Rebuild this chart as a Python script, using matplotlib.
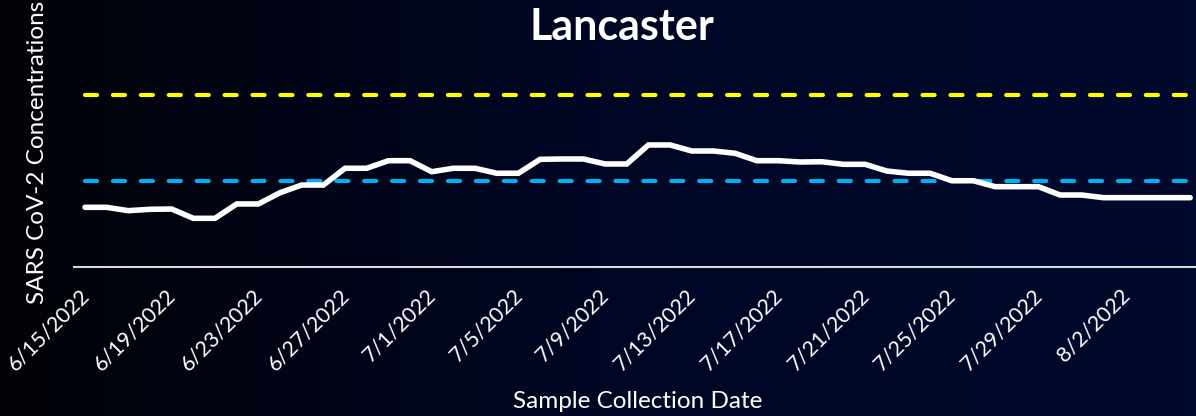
import numpy as np
import pandas as pd
import matplotlib
matplotlib.use("Agg")
import matplotlib.pyplot as plt
import matplotlib.transforms as mtransforms
from matplotlib.colors import LinearSegmentedColormap

# Lancaster wastewater data (arbitrary units, lower threshold = 1)
start_date = "2022-06-15"
concentration = [
    0.694, 0.694, 0.655, 0.671, 0.674, 0.566, 0.566, 0.733, 0.733, 0.864,
    0.953, 0.953, 1.148, 1.148, 1.236, 1.236, 1.108, 1.148, 1.148, 1.090,
    1.090, 1.252, 1.256, 1.256, 1.198, 1.198, 1.419, 1.419, 1.349, 1.349,
    1.322, 1.236, 1.236, 1.221, 1.224, 1.194, 1.194, 1.116, 1.090, 1.090,
    1.003, 1.003, 0.934, 0.934, 0.934, 0.837, 0.837, 0.806, 0.806, 0.806,
    0.806, 0.806,
]
low_threshold = 1.0
high_threshold = 2.0
tick_step = 4

dates = pd.date_range(start_date, periods=len(concentration), freq="D")
day = np.arange(len(concentration))
tick_labels = [f"{d.month}/{d.day}/{d.year}" for d in dates[::tick_step]]

plt.rcParams["font.family"] = ["Lato", "DejaVu Sans"]

W, H = 1196, 416
fig = plt.figure(figsize=(W / 100, H / 100), dpi=100)

# background gradient: black on the left, dark navy on the right
bg = fig.add_axes([0, 0, 1, 1])
cmap = LinearSegmentedColormap.from_list("bg", ["#020308", "#000624", "#000a2c"])
bg.imshow(np.linspace(0, 1, 256)[None, :], aspect="auto", cmap=cmap,
          extent=[0, 1, 0, 1])
bg.set_axis_off()

# axes placed in pixels
left, right, bottom, top = 74, W, 267, 30
ax = fig.add_axes([left / W, (H - bottom) / H, (right - left) / W, (bottom - top) / H])
ax.patch.set_alpha(0)

px_per_day = 21.67
ax.set_xlim(-(85 - left) / px_per_day, (right - 85) / px_per_day)
ax.set_ylim(0, (bottom - top) / 86.0)

ax.plot([0, ax.get_xlim()[1]], [high_threshold] * 2, color="#ffff00", lw=3,
        dashes=(2.9, 3.8), dash_capstyle="round")
ax.plot([0, ax.get_xlim()[1]], [low_threshold] * 2, color="#00b0f0", lw=3,
        dashes=(2.9, 3.8), dash_capstyle="round")
ax.plot(day, concentration, color="white", lw=4, solid_capstyle="round",
        solid_joinstyle="miter")

for s in ["left", "right", "top"]:
    ax.spines[s].set_visible(False)
ax.spines["bottom"].set_color("#d9d9d9")
ax.spines["bottom"].set_linewidth(1.5)

ax.set_yticks([])
ax.set_xticks(day[::tick_step])
ax.set_xticklabels(tick_labels, rotation=45, ha="right", rotation_mode="anchor",
                   fontsize=15.5, color="white")
ax.tick_params(axis="x", length=0, pad=10)
shift = mtransforms.ScaledTranslation(-6 / 100, -4 / 100, fig.dpi_scale_trans)
for lab in ax.get_xticklabels():
    lab.set_transform(lab.get_transform() + shift)

fig.text(622 / W, 1 - 27 / H, "Lancaster", ha="center", va="center",
         fontsize=31, fontweight="bold", color="white")
fig.text(638 / W, 1 - 402 / H, "Sample Collection Date", ha="center",
         va="center", fontsize=17.5, color="white")
fig.text(38 / W, 1 - 152 / H, "SARS CoV-2 Concentrations", ha="center",
         va="center", rotation=90, fontsize=17.5, color="white")

fig.savefig("out.png", dpi=100)
